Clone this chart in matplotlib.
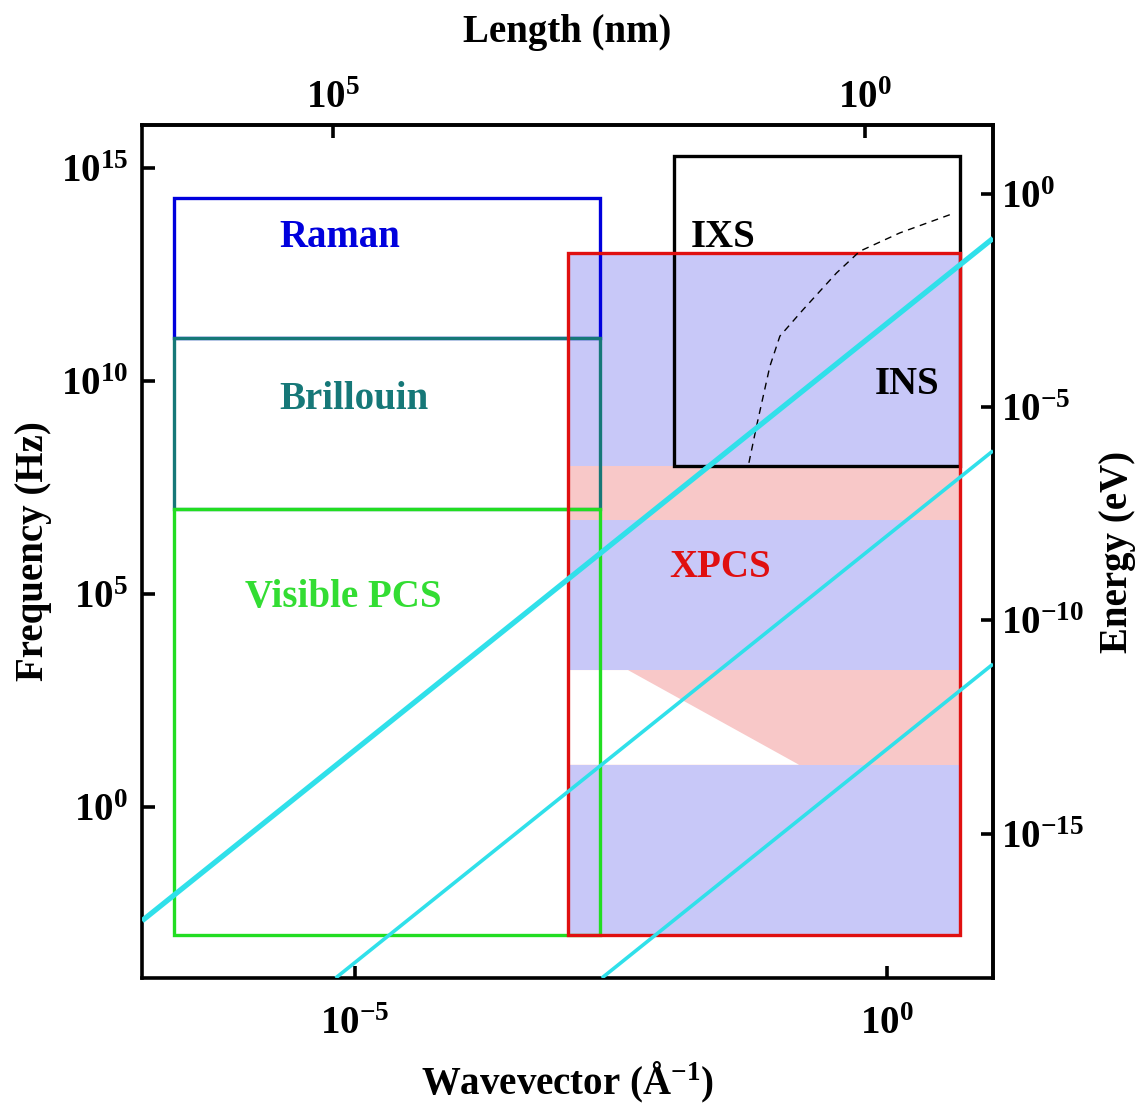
import numpy as np
import matplotlib
matplotlib.use('Agg')
import matplotlib.pyplot as plt
from matplotlib.patches import Rectangle, Polygon
from matplotlib.ticker import NullLocator

plt.rcParams['font.family'] = 'Liberation Serif'
plt.rcParams['font.weight'] = 'bold'
plt.rcParams['mathtext.fontset'] = 'custom'
plt.rcParams['mathtext.rm'] = 'Liberation Serif:bold'
plt.rcParams['mathtext.bf'] = 'Liberation Serif:bold'
plt.rcParams['mathtext.it'] = 'Liberation Serif:bold'

# technique windows in (wavevector, frequency)
techniques = ['Raman', 'Brillouin', 'Visible PCS', 'XPCS', 'IXS/INS']
box_colors = ['#0000dd', '#167878', '#22dd22', '#e01010', 'black']
q_lo = [2e-7, 2e-7, 2e-7, 1e-3, 1e-2]
q_hi = [2e-3, 2e-3, 2e-3, 4.9, 4.9]
f_lo = [1e11, 1e7, 1e-3, 1e-3, 1e8]
f_hi = [1.9e14, 1e11, 1e7, 1e13, 1.9e15]

# XPCS coverage bands (frequency edges), blue = covered, pink = gap
band_edges = [1e13, 1e8, 5.4e6, 1.66e3, 1e1, 1e-3]
band_kind = ['blue', 'pink', 'blue', 'pink', 'blue']
# white notch inside the lower pink band
notch_q = [1e-3, 3.7e-3, 0.15, 1e-3]
notch_f = [1.66e3, 1.66e3, 1e1, 1e1]

# diffusion lines (two end points each)
diff_q = [[1e-7, 10], [6.6e-6, 10], [2.1e-3, 10]]
diff_f = [[2.2e-3, 2.2e13], [1e-4, 2.3e8], [1e-4, 2.3e3]]
diff_lw = [3.8, 2.6, 2.6]

# phonon dispersion (dashed)
disp_q = [0.0507, 0.0598, 0.0798, 0.0991, 0.164, 0.338, 0.560, 1.33, 4.38]
disp_f = [1.2e8, 8.7e8, 2.2e10, 1.12e11, 4.7e11, 3.4e12, 1.1e13, 2.95e13, 8.7e13]

x_ticks = [1e-5, 1e0]
y_ticks = [1e0, 1e5, 1e10, 1e15]
len_ticks = [1e5, 1e0]
en_ticks = [1e-15, 1e-10, 1e-5, 1e0]

h_ev = 4.1357e-15


def q_to_len(q):
    q = np.asarray(q, dtype=float)
    with np.errstate(divide='ignore'):
        return 2 * np.pi / (10 * q)


def f_to_e(f):
    return np.asarray(f, dtype=float) * h_ev


def e_to_f(e):
    return np.asarray(e, dtype=float) / h_ev


def pow_label(v):
    return r'$\mathbf{10^{%d}}$' % int(round(np.log10(v)))


fig = plt.figure(figsize=(11.4, 11.06), dpi=100)
ax = fig.add_axes([0.1246, 0.1157, 0.7465, 0.7713])
ax.set_xscale('log')
ax.set_yscale('log')
ax.set_xlim(1e-7, 1e1)
ax.set_ylim(1e-4, 1e16)

blue_fill = '#c8c8f8'
pink_fill = '#f8c8c8'
i_x = techniques.index('XPCS')
for k in range(len(band_kind)):
    col = blue_fill if band_kind[k] == 'blue' else pink_fill
    ax.add_patch(Rectangle((q_lo[i_x], band_edges[k + 1]), q_hi[i_x] - q_lo[i_x],
                           band_edges[k] - band_edges[k + 1], facecolor=col,
                           edgecolor='none', zorder=1))
ax.add_patch(Polygon(list(zip(notch_q, notch_f)), closed=True, facecolor='white',
                     edgecolor='none', zorder=1.5))

for i in range(len(techniques)):
    ax.add_patch(Rectangle((q_lo[i], f_lo[i]), q_hi[i] - q_lo[i], f_hi[i] - f_lo[i],
                           fill=False, edgecolor=box_colors[i], lw=2.4,
                           zorder=3 + (1 if techniques[i] == 'XPCS' else 0)))

ax.plot(disp_q, disp_f, color='black', lw=1.0, ls=(0, (5, 4)), zorder=4)

for i in range(len(diff_q)):
    ax.plot(diff_q[i], diff_f[i], color='#30e0ea', lw=diff_lw[i], zorder=5,
            solid_capstyle='butt')

lab = dict(fontsize=28, fontweight='bold', ha='center', va='center', zorder=6)
ax.text(7.2e-6, 2.3e13, 'Raman', color='#0000dd', **lab)
ax.text(9.8e-6, 3.6e9, 'Brillouin', color='#167878', **lab)
ax.text(7.8e-6, 8.3e4, 'Visible PCS', color='#33dd33', **lab)
ax.text(2.7e-2, 4.3e5, 'XPCS', color='#e01010', **lab)
ax.text(2.9e-2, 2.3e13, 'IXS', color='black', **lab)
ax.text(1.55, 8.1e9, 'INS', color='black', **lab)

# axes styling
for s in ax.spines.values():
    s.set_linewidth(2.6)
ax.set_xticks(x_ticks)
ax.set_xticklabels([pow_label(v) for v in x_ticks])
ax.set_yticks(y_ticks)
ax.set_yticklabels([pow_label(v) for v in y_ticks])
ax.xaxis.set_minor_locator(NullLocator())
ax.yaxis.set_minor_locator(NullLocator())
ax.tick_params(axis='x', direction='in', length=9, width=2.6, labelsize=28, pad=20)
ax.tick_params(axis='y', direction='in', length=9, width=2.6, labelsize=28, pad=10)

secx = ax.secondary_xaxis('top', functions=(q_to_len, q_to_len))
secx.set_xticks(len_ticks)
secx.set_xticklabels([pow_label(v) for v in len_ticks])
secx.xaxis.set_minor_locator(NullLocator())
secx.tick_params(direction='in', length=9, width=2.6, labelsize=28, pad=6)
secx.spines['top'].set_linewidth(2.6)

secy = ax.secondary_yaxis('right', functions=(f_to_e, e_to_f))
secy.set_yticks(en_ticks)
secy.set_yticklabels([pow_label(v) for v in en_ticks])
secy.yaxis.set_minor_locator(NullLocator())
secy.tick_params(direction='in', length=9, width=2.6, labelsize=28, pad=6)
secy.spines['right'].set_linewidth(2.6)

ax.set_xlabel(r'Wavevector (Å$^{\mathbf{-1}}$)', fontsize=28, fontweight='bold', labelpad=12)
ax.set_ylabel('Frequency (Hz)', fontsize=28, fontweight='bold')
ax.yaxis.set_label_coords(-0.106, 0.5)
secx.set_xlabel('Length (nm)', fontsize=28, fontweight='bold', labelpad=27)
secy.set_ylabel('Energy (eV)', fontsize=28, fontweight='bold')
secy.yaxis.set_label_coords(1.124, 0.5, transform=ax.transAxes)

fig.savefig('out.png', dpi=100, facecolor='white')
